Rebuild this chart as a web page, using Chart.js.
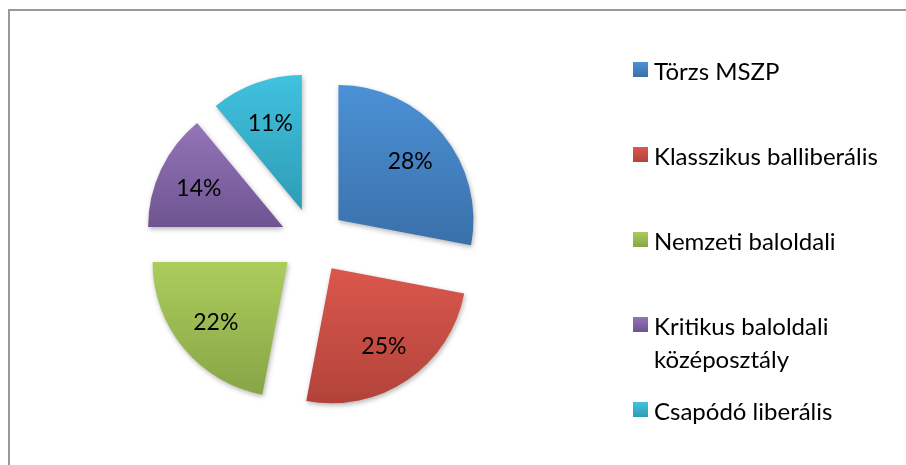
<!DOCTYPE html>
<html lang="hu">
<head>
<meta charset="UTF-8">
<title>Baloldali szavazók</title>
<script src="https://cdn.jsdelivr.net/npm/chart.js@4.4.1/dist/chart.umd.min.js"></script>
<style>
  body { margin: 0; background: #fff; font-family: Lato, 'Open Sans', sans-serif; overflow: hidden; }
  .wrap { position: relative; width: 906px; height: 465px; overflow: hidden; }
  .frame { position: absolute; left: 8px; top: 9px; width: 1000px; height: 1000px; border: 2px solid #999; }
  .chartbox { position: absolute; left: 0; top: 0; width: 906px; height: 465px; }
  #legend { position: absolute; left: 633px; top: 54px; }
  .item { height: 85px; display: flex; align-items: flex-start; font-size: 24px; line-height: 33px; color: #000; }
  .swatch { width: 15px; height: 15px; margin: 8px 6px 0 0; flex: none; }
</style>
</head>
<body>
<div class="wrap">
  <div class="frame"></div>
  <div class="chartbox"><canvas id="pie"></canvas></div>
  <div id="legend"></div>
</div>
<script>
  const segments = ['Törzs MSZP', 'Klasszikus balliberális', 'Nemzeti baloldali', ['Kritikus baloldali', 'középosztály'], 'Csapódó liberális'];
  const shares = [28, 25, 22, 14, 11];
  const topColors = ['#4b91d5', '#da574c', '#abcd5c', '#9475b8', '#40c2e0'];
  const bottomColors = ['#3a70aa', '#b2433a', '#88a546', '#6e5491', '#2e9cb5'];

  const EXPLODE = 33;

  // pulled-out slices with a top-to-bottom gradient and a soft shadow
  const baseDraw = Chart.ArcElement.prototype.draw;
  Chart.ArcElement.prototype.draw = function (ctx) {
    const mid = (this.startAngle + this.endAngle) / 2;
    let minY = this.y, maxY = this.y;
    for (let i = 0; i <= 48; i++) {
      const a = this.startAngle + (this.endAngle - this.startAngle) * i / 48;
      const py = this.y + this.outerRadius * Math.sin(a);
      minY = Math.min(minY, py);
      maxY = Math.max(maxY, py);
    }
    const g = ctx.createLinearGradient(0, minY, 0, maxY);
    g.addColorStop(0, this.options.backgroundColor);
    g.addColorStop(1, this.options.borderColor);

    ctx.save();
    ctx.translate(EXPLODE * Math.cos(mid), EXPLODE * Math.sin(mid));
    ctx.shadowColor = 'rgba(0,0,0,0.3)';
    ctx.shadowBlur = 5;
    ctx.shadowOffsetX = 1;
    ctx.shadowOffsetY = 2;
    const saved = this.options;
    this.options = Object.assign({}, saved, { backgroundColor: g });
    baseDraw.call(this, ctx);
    this.options = saved;
    ctx.restore();
  };

  const pctLabels = {
    id: 'pctLabels',
    afterDatasetsDraw(chart) {
      const ctx = chart.ctx;
      const meta = chart.getDatasetMeta(0);
      ctx.save();
      ctx.font = '23px Lato';
      ctx.fillStyle = '#000';
      ctx.textAlign = 'center';
      ctx.textBaseline = 'middle';
      meta.data.forEach((arc, i) => {
        const mid = (arc.startAngle + arc.endAngle) / 2;
        const r = EXPLODE + arc.outerRadius * 0.69;
        ctx.fillText(shares[i] + '%', arc.x + r * Math.cos(mid), arc.y + r * Math.sin(mid) + 1);
      });
      ctx.restore();
    }
  };

  new Chart(document.getElementById('pie'), {
    type: 'pie',
    data: {
      labels: segments,
      datasets: [{
        data: shares,
        backgroundColor: topColors,
        borderColor: bottomColors,
        borderWidth: 0,
        radius: 135
      }]
    },
    options: {
      responsive: true,
      maintainAspectRatio: false,
      animation: false,
      layout: { padding: { left: 0, right: 280, top: 17, bottom: 0 } },
      plugins: {
        legend: { display: false },
        tooltip: { enabled: false }
      }
    },
    plugins: [pctLabels]
  });

  // legend on the right
  const legend = document.getElementById('legend');
  segments.forEach((name, i) => {
    const item = document.createElement('div');
    item.className = 'item';
    const sw = document.createElement('span');
    sw.className = 'swatch';
    sw.style.background = 'linear-gradient(' + topColors[i] + ', ' + bottomColors[i] + ')';
    const txt = document.createElement('span');
    txt.innerHTML = [].concat(name).join('<br>');
    item.appendChild(sw);
    item.appendChild(txt);
    legend.appendChild(item);
  });
</script>
</body>
</html>
